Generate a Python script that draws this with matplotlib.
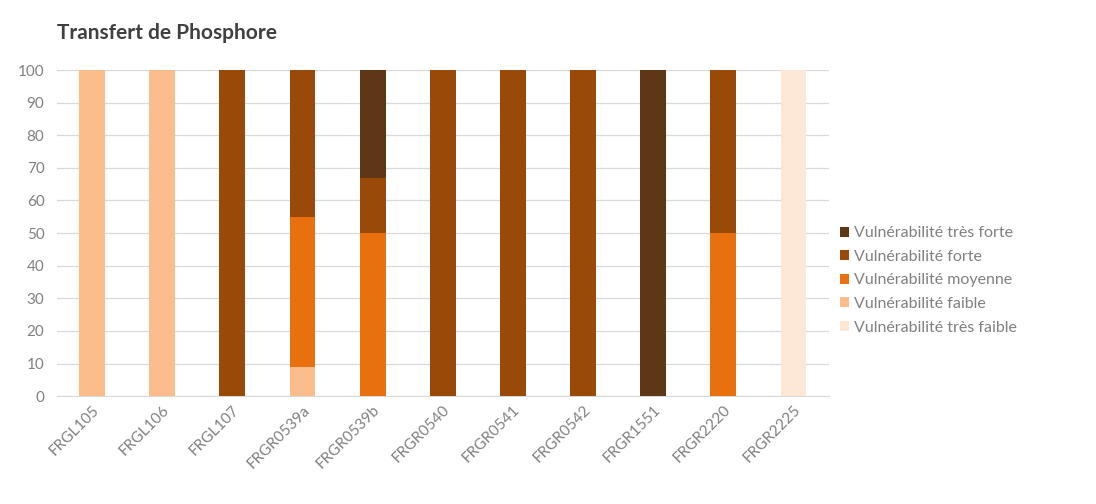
import matplotlib
matplotlib.use("Agg")
import matplotlib.pyplot as plt
import numpy as np

# Données (en %).
stations = ["FRGL105", "FRGL106", "FRGL107", "FRGR0539a", "FRGR0539b", "FRGR0540",
            "FRGR0541", "FRGR0542", "FRGR1551", "FRGR2220", "FRGR2225"]
tres_faible = [0, 0, 0, 0, 0, 0, 0, 0, 0, 0, 100]
faible = [100, 100, 0, 9, 0, 0, 0, 0, 0, 0, 0]
moyenne = [0, 0, 0, 46, 50, 0, 0, 0, 0, 50, 0]
forte = [0, 0, 100, 45, 17, 100, 100, 100, 0, 50, 0]
tres_forte = [0, 0, 0, 0, 33, 0, 0, 0, 100, 0, 0]

series = [
    ("Vulnérabilité très faible", tres_faible, "#fde8d8"),
    ("Vulnérabilité faible", faible, "#fbbd8c"),
    ("Vulnérabilité moyenne", moyenne, "#e8700e"),
    ("Vulnérabilité forte", forte, "#9a4a08"),
    ("Vulnérabilité très forte", tres_forte, "#5e3716"),
]

plt.rcParams["font.family"] = ["Lato", "DejaVu Sans"]

fig = plt.figure(figsize=(10.96, 5.04), dpi=100)
ax = fig.add_axes([0.052, 0.214, 0.704, 0.647])

x = np.arange(len(stations))
bottom = np.zeros(len(stations))
handles = []
for label, values, color in series:
    vals = np.array(values, dtype=float)
    h = ax.bar(x, vals, width=0.37, bottom=bottom, color=color, label=label, zorder=3)
    handles.append(h)
    bottom += vals

ax.set_xlim(-0.5, len(stations) - 0.5)
ax.set_ylim(0, 100)
ax.set_yticks(range(0, 101, 10))
ax.grid(axis="y", color="#d9d9d9", linewidth=0.9, zorder=0)
for side in ["top", "right", "left"]:
    ax.spines[side].set_visible(False)
ax.spines["bottom"].set_color("#d9d9d9")
ax.tick_params(axis="both", length=0, colors="#808080", labelsize=11)
ax.tick_params(axis="y", pad=9)
ax.tick_params(axis="x", pad=5)
ax.set_xticks(x)
ax.set_xticklabels(stations, rotation=45, ha="right", rotation_mode="anchor")

fig.text(0.052, 0.935, "Transfert de Phosphore", fontsize=15, fontweight="bold",
         color="#404040", va="center")

leg = ax.legend(handles[::-1], [s[0] for s in series][::-1], loc="center left",
                bbox_to_anchor=(1.0, 0.355), frameon=False, fontsize=11.5,
                handlelength=0.6, handleheight=0.6, handletextpad=0.3,
                labelspacing=0.6, borderaxespad=0.3)
for t in leg.get_texts():
    t.set_color("#808080")

fig.savefig("out.png", dpi=100)
